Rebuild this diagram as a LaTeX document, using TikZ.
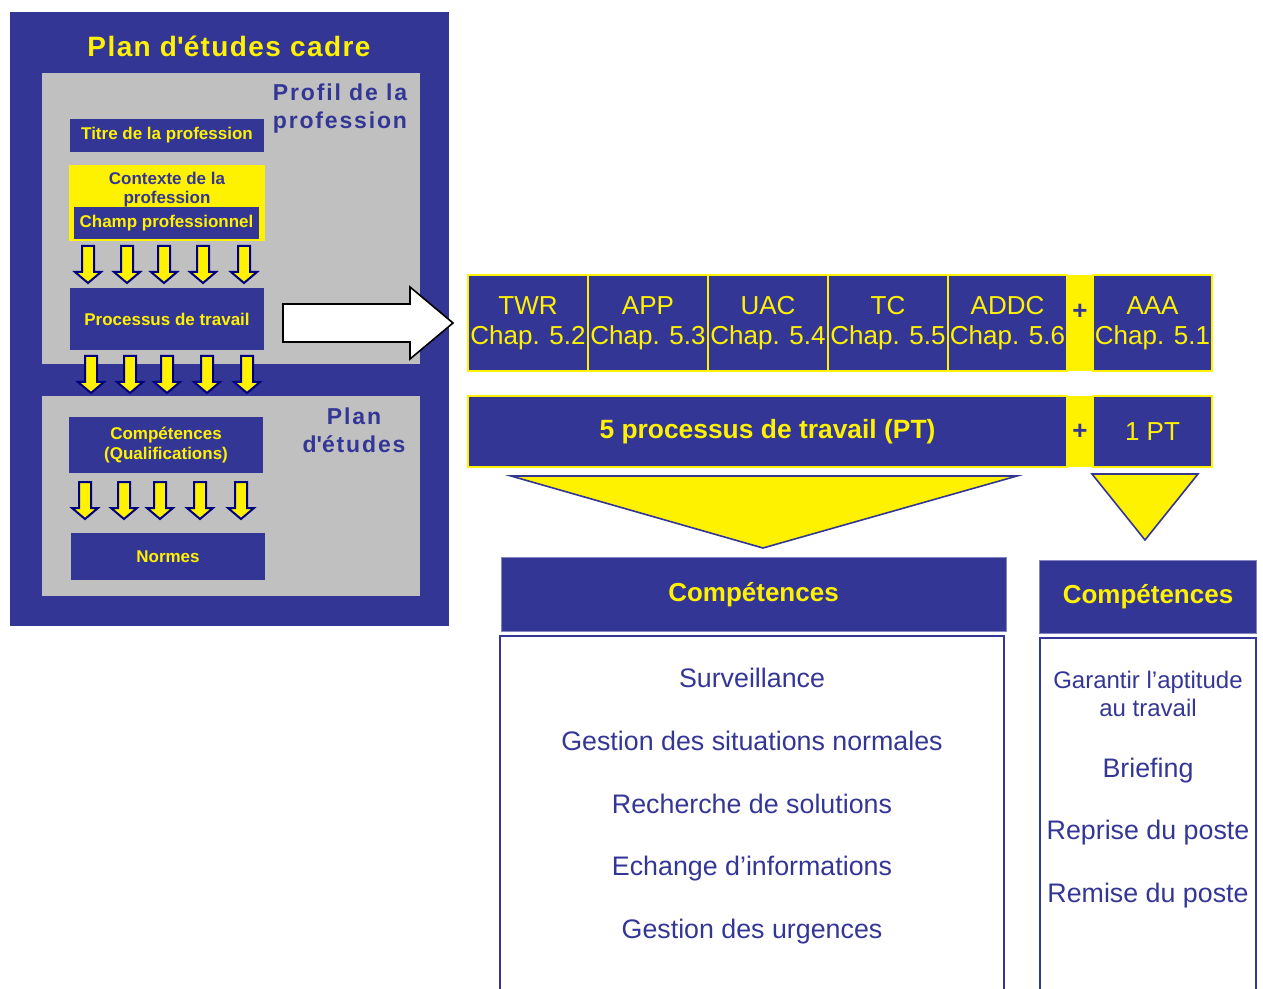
\documentclass[tikz,border=0pt]{standalone}
\usepackage{fontspec}
\setmainfont{Liberation Sans}
\newfontfamily\titlefont[LetterSpace=5]{Liberation Sans}
\newfontfamily\labelfont[LetterSpace=8]{Liberation Sans}
\usetikzlibrary{positioning}
\definecolor{pblue}{HTML}{343696}
\definecolor{pgrey}{HTML}{C0C0C0}
\definecolor{navy}{HTML}{000080}
\tikzset{
  smallbox/.style={fill=pblue, text=yellow, font=\bfseries\fontsize{8.5}{10}\selectfont, minimum width=97pt, inner sep=0pt, align=center},
  cellbox/.style={draw=yellow, line width=1pt, fill=pblue, text=yellow, font=\fontsize{13}{15}\selectfont, minimum height=48pt, inner sep=0pt, align=center},
  headbox/.style={fill=pblue, draw=pblue!60, text=yellow, font=\bfseries\fontsize{13}{15}\selectfont, inner sep=0pt},
  listbox/.style={draw=pblue, line width=1pt},
  listtext/.style={text=pblue, font=\fontsize{13.4}{14}\selectfont, anchor=base, align=center, inner sep=0pt},
  plustext/.style={text=pblue, font=\bfseries\fontsize{13}{15}\selectfont, inner sep=0pt},
  wedge/.style={fill=yellow, draw=pblue, line width=0.8pt},
  downarrow/.pic={\draw[fill=yellow, draw=navy, line width=1pt] (-6,0) -- (6,0) -- (6,26) -- (13,26) -- (0,37) -- (-13,26) -- (-6,26) -- cycle;}
}

\begin{document}
\begin{tikzpicture}[x=0.5pt, y=-0.5pt]
  \useasboundingbox (0,0) rectangle (1263,989);

  % plan d'etudes cadre
  \fill[pblue] (10,12) rectangle (449,626);
  \node[text=yellow, font=\titlefont\bfseries\fontsize{14}{16}\selectfont] (cadre) at (229,46) {Plan d\textquotesingle études cadre};
  \fill[pgrey] (42,73) rectangle (420,364);
  \fill[pgrey] (42,396) rectangle (420,596);
  \node[text=pblue, font=\labelfont\bfseries\fontsize{11.5}{14}\selectfont, align=center] (profil) at (340,109) {Profil de la\\profession};
  \node[text=pblue, font=\labelfont\bfseries\fontsize{11.5}{14}\selectfont, align=center] (plan) at (354,430) {Plan\\d\textquotesingle études};

  \node[smallbox, minimum height=16.5pt] (titre) at (167,135.5) {Titre de la profession};
  \fill[yellow] (69,165) rectangle (265,241);
  \node[text=pblue, font=\bfseries\fontsize{8.5}{9.5}\selectfont, align=center] (contexte) at (167,190) {Contexte de la\\profession};
  \node[smallbox, minimum width=92.5pt, minimum height=16pt] (champ) at (166.5,223) {Champ professionnel};
  \node[smallbox, minimum height=31pt] (processus) at (167,319) {Processus de travail};
  \node[smallbox, minimum height=28pt] (qualif) at (166,445) {Compétences\\(Qualifications)};
  \node[smallbox, minimum height=23.5pt] (normes) at (168,556.5) {Normes};

  \foreach \x in {88,127,164,203,244} \pic at (\x,246) {downarrow};
  \foreach \x in {91,130,167,207,247} \pic at (\x,356) {downarrow};
  \foreach \x in {85,124,160,200,241} \pic at (\x,482) {downarrow};

  % big arrow to the work processes
  \draw[fill=white, line width=0.8pt] (283,304) -- (410,304) -- (410,287) -- (453,323) -- (410,359) -- (410,342) -- (283,342) -- cycle;

  % domains
  \fill[yellow] (1066,275) rectangle (1094,371);
  \node[cellbox, minimum width=60pt] (twr) at (528,323) {TWR\\Chap. 5.2};
  \node[cellbox, minimum width=60pt] (app) at (648,323) {APP\\Chap. 5.3};
  \node[cellbox, minimum width=60pt] (uac) at (768,323) {UAC\\Chap. 5.4};
  \node[cellbox, minimum width=60pt] (tc) at (888,323) {TC\\Chap. 5.5};
  \node[cellbox, minimum width=59.5pt] (addc) at (1007.5,323) {ADDC\\Chap. 5.6};
  \node[plustext] (plus1) at (1080,312) {+};
  \node[cellbox, minimum width=59.5pt] (aaa) at (1152.5,323) {AAA\\Chap. 5.1};

  \fill[yellow] (1066,396) rectangle (1094,467);
  \node[cellbox, font=\bfseries\fontsize{13.2}{15}\selectfont, minimum width=299.5pt, minimum height=35.5pt] (pt5) at (767.5,431.5) {5 processus de travail (PT)};
  \node[plustext] (plus2) at (1080,432) {+};
  \node[cellbox, minimum width=59.5pt, minimum height=35.5pt] (pt1) at (1152.5,431.5) {1 PT};

  \draw[wedge] (511,476) -- (1017,476) -- (763,548) -- cycle;
  \draw[wedge] (1092,474) -- (1198,474) -- (1145,540) -- cycle;

  % competences
  \node[headbox, minimum width=252.5pt, minimum height=37pt] (comp1) at (753.5,594.5) {Compétences};
  \node[headbox, minimum width=108.5pt, minimum height=36.5pt] (comp2) at (1148,596.5) {Compétences};
  \draw[listbox] (500,995) -- (500,636) -- (1004,636) -- (1004,995);
  \draw[listbox] (1040,995) -- (1040,638) -- (1256,638) -- (1256,995);

  \node[listtext] (surv) at (752,687) {Surveillance};
  \node[listtext] (normales) at (752,750) {Gestion des situations normales};
  \node[listtext] (solutions) at (752,813) {Recherche de solutions};
  \node[listtext] (echange) at (752,875) {Echange d’informations};
  \node[listtext] (urgences) at (752,938) {Gestion des urgences};

  \node[listtext, anchor=center, font=\fontsize{12}{14}\selectfont] (aptitude) at (1148,694) {Garantir l’aptitude\\au travail};
  \node[listtext] (briefing) at (1148,777) {Briefing};
  \node[listtext] (reprise) at (1148,839) {Reprise du poste};
  \node[listtext] (remise) at (1148,902) {Remise du poste};
\end{tikzpicture}
\end{document}
